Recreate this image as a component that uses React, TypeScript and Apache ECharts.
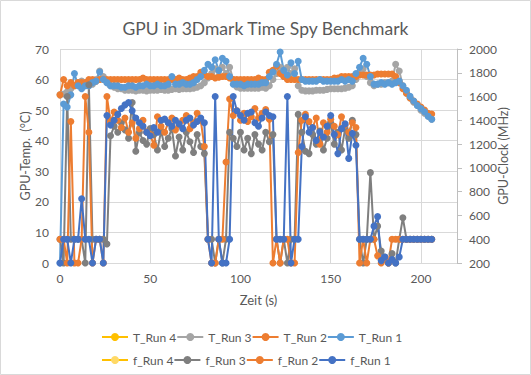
import React, { useEffect, useRef } from "react";
import * as echarts from "echarts";

// Time in seconds (sample grid)
const time = [
  0, 2, 4, 6, 8, 10, 12, 14, 16, 18,
  20, 22, 24, 26, 28, 30, 32, 34, 36, 38,
  40, 42, 44, 46, 48, 50, 52, 54, 56, 58,
  60, 62, 64, 66, 68, 70, 72, 74, 76, 78,
  80, 82, 84, 86, 88, 90, 92, 94, 96, 98,
  100, 102, 104, 106, 108, 110, 112, 114, 116, 118,
  120, 122, 124, 126, 128, 130, 132, 134, 136, 138,
  140, 142, 144, 146, 148, 150, 152, 154, 156, 158,
  160, 162, 164, 166, 168, 170, 172, 174, 176, 178,
  180, 182, 184, 186, 188, 190, 192, 194, 196, 198,
  200, 202, 204, 206,
];

// GPU temperature (°C)
const tRun4: number[] = [];
const tRun3 = [
  55, 55.3, 56, 57, 58, 59, 59.5, 58, 58, 58.5,
  60, 62.8, 61, 59, 58, 57.5, 57, 57, 56.5, 56.5,
  56.5, 56.3, 56.5, 56.5, 56.3, 56.5, 56.5, 56.5, 56.8, 56.5,
  56.5, 56.8, 57, 56.8, 57, 57, 57, 57.2, 57.5, 58,
  59, 60.5, 62, 63.5, 61, 64, 62, 64, 60, 57.6,
  57.2, 57.2, 57.2, 57.2, 57.2, 57.2, 57.5, 57.2, 58, 60,
  62, 64, 61, 64, 62, 63.5, 58, 56.5, 56.3, 56.3,
  56.3, 56.5, 56.5, 56.5, 56.8, 57, 57, 57, 57, 57.2,
  57.5, 58, 60, 62, 63.5, 61, 59, 58, 58.5, 58.5,
  59, 59, 59.5, 65, 62.8, 58, 55.5, 54, 52.6, 51.5,
  50, 49, 48, 47,
];
const tRun2 = [
  55, 60, 58, 59, 58, 59, 59, 59, 60, 60,
  59.5, 60, 60, 60, 60, 60, 60, 60, 60, 60,
  60, 60, 60, 60.5, 60, 60, 60, 60, 60, 60,
  60, 60, 60, 60.5, 60, 60, 60.5, 61, 61, 62.4,
  61.5, 61, 61, 60.5, 60.8, 61, 61, 60.5, 60, 60,
  60, 60, 60, 60, 60, 60.5, 60, 60, 62.4, 63,
  64.4, 62, 61, 60, 60, 60, 60, 60, 60, 60,
  60, 60, 60, 60, 60, 60, 60.5, 60.5, 61, 61,
  61, 61, 61, 61.5, 61.5, 61.5, 61.5, 61.5, 61.8, 61.8,
  61.8, 61.8, 61.8, 61, 59, 57, 55.5, 54, 53, 52,
  51, 50, 49, 48.7,
];
const tRun1 = [
  0, 52, 51, 55, 62, 58, 57, 58, 58, 59,
  59.5, 62.5, 60, 59, 58, 58, 58, 57.5, 57.5, 58,
  58, 57.5, 58, 58, 58.5, 58, 58, 58.5, 58, 58,
  58.5, 61, 58.5, 58.5, 59, 58.5, 58.5, 59, 60, 61,
  63, 65, 64, 66.5, 63, 67, 66, 61, 58.5, 58.5,
  58.5, 58, 58.5, 58.5, 58.5, 58.5, 59, 59, 61, 62.5,
  65, 69, 63, 61.5, 65.5, 62, 66, 60, 59.5, 59.5,
  59.5, 59.5, 60, 59.5, 59.5, 59.5, 59.5, 59.5, 60, 59.5,
  60, 59.5, 62, 64, 67, 65, 61, 58.5, 58.5, 59,
  58.5, 59, 58.5, 59, 59.5, 58, 56.5, 54.5, 53, 51.5,
  50.5, 49.5, 48, 47,
];

// GPU clock (MHz)
const fRun4: number[] = [];
const fRun3 = [
  400, 200, 1600, 400, 400, 400, 400, 200, 1700, 400,
  400, 400, 400, 360, 1270, 1350, 1300, 1380, 1320, 1250,
  1550, 1140, 1300, 1230, 1200, 1330, 1280, 1150, 1310, 1180,
  1250, 1330, 1100, 1260, 1150, 1300, 1220, 1130, 1280, 1180,
  1120, 400, 400, 200, 400, 200, 400, 1300, 1250, 1180,
  1300, 1150, 1250, 1120, 1280, 1200, 1150, 1300, 1220, 1280,
  400, 200, 400, 200, 400, 400, 1450, 1300, 1140, 1120,
  1280, 1200, 1310, 1150, 1250, 1380, 1200, 1300, 1150, 1330,
  1250, 1400, 1280, 400, 200, 400, 960, 400, 510, 300,
  250, 200, 280, 200, 400, 580, 400, 400, 400, 400,
  400, 400, 400, 400,
];
const fRun2 = [
  400, 400, 200, 1390, 200, 200, 400, 1600, 1300, 200,
  400, 400, 200, 1600, 1390, 1470, 1400, 1340, 1420, 1300,
  1380, 1250, 1330, 1400, 1300, 1280, 1190, 1430, 1350, 1300,
  1380, 1420, 1320, 1360, 1400, 1440, 1330, 1380, 1460, 1400,
  1180, 400, 200, 200, 400, 400, 1050, 1580, 1440, 1480,
  1400, 1460, 1390, 1430, 1500, 1420, 1460, 1490, 1410, 200,
  400, 200, 400, 400, 200, 200, 1130, 1400, 1450, 1390,
  1340, 1420, 1200, 1380, 1300, 1410, 1350, 1280, 1430, 1360,
  1300, 1380, 1340, 200, 400, 200, 400, 400, 260, 200,
  230, 200, 400, 400, 400, 400, 400, 400, 400, 400,
  400, 400, 400, 400,
];
const fRun1 = [
  200, 400, 400, 200, 400, 400, 740, 400, 400, 200,
  400, 400, 200, 1440, 1360, 1400, 1450, 1500, 1530, 1550,
  1480, 1420, 1380, 1350, 1300, 1270, 1340, 1300, 1400, 1410,
  1380, 1350, 1400, 1370, 1330, 1400, 1420, 1360, 1390, 1420,
  1380, 400, 200, 1600, 400, 200, 200, 400, 1600, 1480,
  1440, 1400, 1460, 1470, 1380, 1350, 1420, 1470, 1440, 1430,
  400, 400, 400, 1600, 200, 400, 400, 1180, 1430, 1300,
  1340, 1230, 1300, 1260, 1350, 1440, 1280, 1120, 1330, 1370,
  1080, 1290, 1190, 400, 400, 400, 400, 510, 590, 220,
  250, 200, 230, 200, 250, 400, 400, 400, 400, 400,
  400, 400, 400, 400,
];

const xTicks = { min: 0, max: 220, interval: 50 };
const tempTicks = { min: 0, max: 70, interval: 10 };
const clockTicks = { min: 200, max: 2000, interval: 200 };

const tempNames = ["T_Run 4", "T_Run 3", "T_Run 2", "T_Run 1"];
const clockNames = ["f_Run 4", "f_Run 3", "f_Run 2", "f_Run 1"];

const FONT = "Lato, 'Open Sans', sans-serif";
const TXT = "#595959";
const GRID = "#D9D9D9";

function pairs(ys: number[]) {
  return ys.map((y, i) => [time[i], y]);
}

function mk(name: string, ys: number[], axis: number, line: string, fill?: string) {
  return {
    name,
    type: "line",
    yAxisIndex: axis,
    data: pairs(ys),
    symbol: "circle",
    symbolSize: 7,
    showSymbol: true,
    lineStyle: { color: line, width: 2 },
    itemStyle: { color: fill || line, borderWidth: 0 },
    emphasis: { disabled: true },
  };
}

export default function App() {
  const ref = useRef<HTMLDivElement>(null);
  useEffect(() => {
    document.body.style.margin = "0";
    const chart = echarts.init(ref.current!, null, { renderer: "svg" });
    const legendCommon = {
      left: 96,
      orient: "horizontal",
      itemWidth: 26,
      itemHeight: 10,
      itemGap: 0,
      textStyle: { fontSize: 12, color: TXT, fontFamily: FONT, width: 50 },
    };
    chart.setOption({
      animation: false,
      textStyle: { fontFamily: FONT },
      title: {
        text: "GPU in 3Dmark Time Spy Benchmark",
        left: "center",
        top: 14,
        textStyle: { fontSize: 17.5, fontWeight: "normal", color: TXT, fontFamily: FONT },
      },
      graphic: [
        {
          type: "rect",
          shape: { x: 0.5, y: 0.5, width: 530, height: 374 },
          style: { fill: "none", stroke: GRID, lineWidth: 1 },
          silent: true,
        },
      ],
      legend: [
        { ...legendCommon, top: 326, data: tempNames },
        { ...legendCommon, top: 349, data: clockNames },
      ],
      grid: { left: 60, right: 74, top: 49, bottom: 112, containLabel: false },
      xAxis: {
        type: "value",
        ...xTicks,
        name: "Zeit (s)",
        nameLocation: "middle",
        nameGap: 30,
        nameMoveOverlap: false,
        nameTextStyle: { fontSize: 13, color: TXT, fontFamily: FONT },
        axisLine: { show: true, lineStyle: { color: GRID } },
        axisTick: { show: false },
        axisLabel: { fontSize: 12, color: TXT, margin: 9, showMaxLabel: false, fontFamily: FONT },
        splitLine: { show: true, lineStyle: { color: GRID } },
      },
      yAxis: [
        {
          type: "value",
          ...tempTicks,
          name: "GPU-Temp.  (°C)",
          nameLocation: "middle",
          nameRotate: 90,
          nameGap: 28,
          nameMoveOverlap: false,
          nameTextStyle: { fontSize: 12.5, color: TXT, fontFamily: FONT },
          axisLine: { show: false },
          axisTick: { show: false },
          axisLabel: { fontSize: 12, color: TXT, margin: 11, fontFamily: FONT },
          splitLine: { show: true, lineStyle: { color: GRID } },
        },
        {
          type: "value",
          position: "right",
          ...clockTicks,
          name: "GPU-Clock (MHz)",
          nameLocation: "middle",
          nameRotate: 90,
          nameGap: 40,
          nameMoveOverlap: false,
          nameTextStyle: { fontSize: 12.5, color: TXT, fontFamily: FONT },
          axisLine: { show: true, lineStyle: { color: "#BFBFBF" } },
          axisTick: { show: true, length: 5, lineStyle: { color: "#BFBFBF" } },
          axisLabel: {
            fontSize: 12,
            color: TXT,
            margin: 12,
            fontFamily: FONT,
            formatter: (v: number) => String(v),
          },
          splitLine: { show: false },
        },
      ],
      series: [
        mk("T_Run 4", tRun4, 0, "#FFC000"),
        mk("T_Run 3", tRun3, 0, "#A5A5A5"),
        mk("T_Run 2", tRun2, 0, "#ED7D31"),
        mk("T_Run 1", tRun1, 0, "#5B9BD5"),
        mk("f_Run 4", fRun4, 1, "#FFC000", "#FFD966"),
        mk("f_Run 3", fRun3, 1, "#7F7F7F"),
        mk("f_Run 2", fRun2, 1, "#ED7D31"),
        mk("f_Run 1", fRun1, 1, "#4472C4"),
      ],
    });
    return () => chart.dispose();
  }, []);
  return <div ref={ref} style={{ width: 531, height: 375 }} />;
}
